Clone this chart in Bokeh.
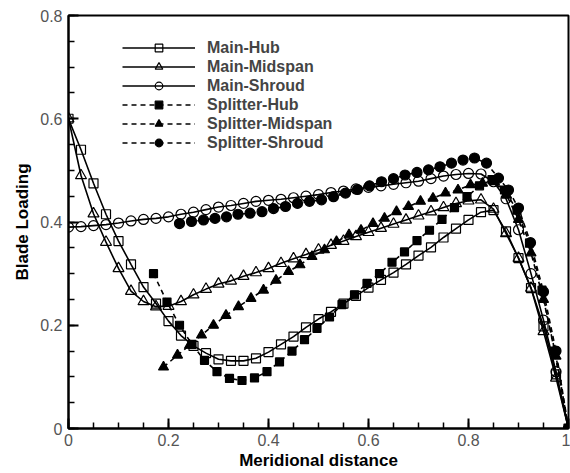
from bokeh.plotting import figure
from bokeh.models import Range1d, FixedTicker, Legend
from bokeh.embed import file_html
from bokeh.resources import INLINE

# ---------------- data ----------------
main_x = [0.0, 0.025, 0.05, 0.075, 0.1, 0.125, 0.15, 0.175, 0.2, 0.225, 0.25, 0.275,
          0.3, 0.325, 0.35, 0.375, 0.4, 0.425, 0.45, 0.475, 0.5, 0.525, 0.55, 0.575,
          0.6, 0.625, 0.65, 0.675, 0.7, 0.725, 0.75, 0.775, 0.8, 0.825, 0.85, 0.875,
          0.9, 0.925, 0.95, 0.975, 1.0]

main_hub = [0.600, 0.540, 0.475, 0.415, 0.363, 0.318, 0.274, 0.242, 0.208, 0.180, 0.160, 0.146,
            0.134, 0.131, 0.131, 0.136, 0.148, 0.163, 0.178, 0.196, 0.212, 0.226, 0.242, 0.257,
            0.273, 0.288, 0.302, 0.318, 0.335, 0.351, 0.370, 0.387, 0.404, 0.419, 0.423, 0.382,
            0.330, 0.272, 0.198, 0.105, 0.0]

main_mid = [0.600, 0.490, 0.416, 0.361, 0.310, 0.266, 0.246, 0.236, 0.237, 0.246, 0.259, 0.270,
            0.280, 0.286, 0.295, 0.302, 0.310, 0.320, 0.329, 0.337, 0.346, 0.355, 0.363, 0.372,
            0.380, 0.388, 0.396, 0.404, 0.412, 0.420, 0.428, 0.436, 0.441, 0.443, 0.425, 0.378,
            0.330, 0.272, 0.188, 0.098, 0.0]

main_shroud = [0.390, 0.391, 0.393, 0.395, 0.398, 0.402, 0.405, 0.407, 0.410, 0.415, 0.419, 0.424,
               0.429, 0.432, 0.436, 0.440, 0.442, 0.444, 0.447, 0.450, 0.453, 0.457, 0.460, 0.464,
               0.467, 0.470, 0.473, 0.476, 0.479, 0.484, 0.489, 0.492, 0.494, 0.493, 0.478, 0.445,
               0.385, 0.300, 0.210, 0.110, 0.0]

split_hub_x = [0.17, 0.197, 0.222, 0.247, 0.272, 0.297, 0.322, 0.347, 0.372, 0.397, 0.422, 0.447,
               0.472, 0.497, 0.522, 0.547, 0.572, 0.597, 0.622, 0.647, 0.672, 0.697, 0.722, 0.747,
               0.772, 0.797, 0.822, 0.847, 0.872, 0.897, 0.922, 0.947, 0.972, 1.0]
split_hub = [0.300, 0.245, 0.200, 0.163, 0.132, 0.110, 0.097, 0.093, 0.098, 0.110, 0.129, 0.150,
             0.172, 0.194, 0.216, 0.240, 0.259, 0.281, 0.300, 0.322, 0.342, 0.364, 0.384, 0.405,
             0.428, 0.449, 0.470, 0.482, 0.462, 0.423, 0.359, 0.268, 0.150, 0.0]

split_mid_x = [0.19, 0.218, 0.242, 0.266, 0.29, 0.315, 0.34, 0.365, 0.39, 0.415, 0.44, 0.463,
               0.487, 0.512, 0.536, 0.561, 0.585, 0.609, 0.632, 0.656, 0.68, 0.704, 0.729, 0.754,
               0.779, 0.804, 0.828, 0.852, 0.876, 0.9, 0.925, 0.95, 0.975, 1.0]
split_mid = [0.119, 0.142, 0.161, 0.181, 0.200, 0.219, 0.236, 0.252, 0.268, 0.287, 0.304, 0.317,
             0.333, 0.346, 0.362, 0.375, 0.384, 0.397, 0.407, 0.420, 0.430, 0.440, 0.446, 0.456,
             0.462, 0.472, 0.475, 0.478, 0.452, 0.405, 0.340, 0.250, 0.140, 0.0]

split_shr_x = [0.222, 0.246, 0.27, 0.293, 0.316, 0.339, 0.363, 0.387, 0.41, 0.434, 0.458, 0.482,
               0.506, 0.53, 0.554, 0.578, 0.602, 0.626, 0.65, 0.673, 0.697, 0.72, 0.743, 0.766,
               0.789, 0.812, 0.836, 0.86, 0.88, 0.9, 0.924, 0.95, 0.975, 1.0]
split_shr = [0.397, 0.401, 0.404, 0.407, 0.410, 0.415, 0.417, 0.420, 0.426, 0.430, 0.436, 0.440,
             0.443, 0.449, 0.456, 0.463, 0.470, 0.478, 0.484, 0.491, 0.496, 0.501, 0.507, 0.514,
             0.520, 0.524, 0.514, 0.485, 0.462, 0.427, 0.360, 0.265, 0.150, 0.0]

x_ticks = [0, 0.2, 0.4, 0.6, 0.8, 1.0]
x_tick_labels = ["0", "0.2", "0.4", "0.6", "0.8", "1"]
y_ticks = [0, 0.2, 0.4, 0.6, 0.8]
y_tick_labels = ["0", "0.2", "0.4", "0.6", "0.8"]

# ---------------- figure ----------------
FONT = "Liberation Sans"
p = figure(width=570, height=473, output_backend="svg", toolbar_location=None,
           x_range=Range1d(0, 1), y_range=Range1d(0, 0.8),
           min_border_left=68, min_border_right=2, min_border_top=15, min_border_bottom=45)
p.grid.visible = False
p.outline_line_color = "black"
p.outline_line_width = 2
p.background_fill_color = "white"
p.border_fill_color = "white"

for ax, ticks, labels in ((p.xaxis[0], x_ticks, x_tick_labels), (p.yaxis[0], y_ticks, y_tick_labels)):
    ax.ticker = FixedTicker(ticks=ticks, minor_ticks=[i * 0.05 for i in range(21)])
    ax.major_label_overrides = {t: l for t, l in zip(ticks, labels)}
    ax.axis_line_width = 2
    ax.major_tick_in = 10
    ax.major_tick_out = 0
    ax.minor_tick_in = 6
    ax.minor_tick_out = 0
    ax.major_tick_line_width = 2
    ax.minor_tick_line_width = 1.5
    ax.major_label_text_font = FONT
    ax.major_label_text_font_size = "16px"
    ax.major_label_text_color = "#555555"
    ax.axis_label_text_font = FONT
    ax.axis_label_text_font_size = "17px"
    ax.axis_label_text_font_style = "bold"
    ax.axis_label_text_color = "black"

p.xaxis.axis_label = "Meridional distance"
p.yaxis.axis_label = "Blade Loading"
p.xaxis.major_label_standoff = 5
p.xaxis.axis_label_standoff = 2
p.yaxis.major_label_standoff = 6
p.yaxis.axis_label_standoff = 5

series = [
    ("Main-Hub", main_x, main_hub, "square", None, "solid", 9),
    ("Main-Midspan", main_x, main_mid, "triangle", None, "solid", 11),
    ("Main-Shroud", main_x, main_shroud, "circle", None, "solid", 10),
    ("Splitter-Hub", split_hub_x, split_hub, "square", "black", "5 4", 8),
    ("Splitter-Midspan", split_mid_x, split_mid, "triangle", "black", "5 4", 10),
    ("Splitter-Shroud", split_shr_x, split_shr, "circle", "black", "5 4", 10),
]

items = []
for name, xs, ys, marker, fill, dash, size in series:
    r1 = p.line(xs, ys, line_color="black", line_width=1.6, line_dash=dash)
    r2 = p.scatter(xs, ys, marker=marker, size=size, line_color="black", line_width=1.2,
                   fill_color=fill if fill else "white", fill_alpha=1.0 if fill else 0.0)
    items.append((name, [r1, r2]))

legend = Legend(items=items, location=(54, 276))
legend.padding = 0
legend.spacing = 0
legend.margin = 0
legend.glyph_width = 73
legend.glyph_height = 19
legend.label_height = 19
legend.label_standoff = 12
legend.label_text_font = FONT
legend.label_text_font_size = "16px"
legend.label_text_font_style = "bold"
legend.border_line_color = None
legend.background_fill_alpha = 0
p.add_layout(legend, "center")

open("out.html", "w").write(file_html(p, INLINE))
